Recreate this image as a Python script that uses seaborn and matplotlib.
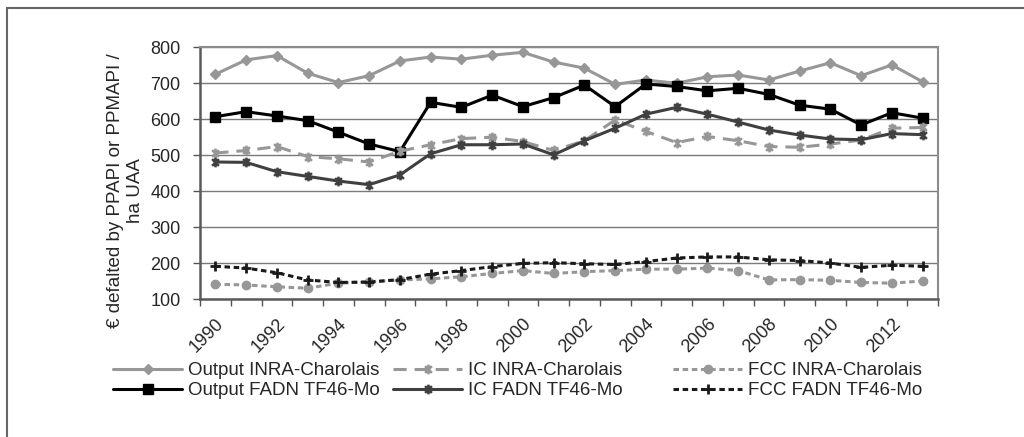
import seaborn as sns
import pandas as pd
import matplotlib.pyplot as plt
from matplotlib.patches import Rectangle
from matplotlib.path import Path
from matplotlib.ticker import MultipleLocator, FixedLocator

years = list(range(1990, 2014))

output_inra = [725, 765, 777, 728, 702, 721, 762, 773, 767, 778, 786, 759,
               742, 697, 709, 700, 718, 723, 709, 734, 757, 721, 751, 704]
output_fadn = [607, 621, 609, 596, 564, 531, 510, 647, 633, 667, 635, 660,
               695, 635, 698, 691, 679, 686, 669, 639, 628, 584, 618, 603]
ic_inra = [506, 513, 524, 496, 490, 481, 511, 529, 546, 550, 538, 513,
           540, 598, 566, 535, 552, 540, 524, 522, 531, 542, 575, 577]
ic_fadn = [481, 480, 454, 441, 428, 418, 445, 504, 529, 529, 531, 501,
           540, 575, 614, 633, 614, 592, 570, 556, 545, 543, 560, 557]
fcc_inra = [141, 139, 134, 130, 144, 148, 153, 156, 162, 171, 179, 171,
            176, 179, 183, 183, 186, 179, 153, 154, 152, 146, 144, 150]
fcc_fadn = [191, 186, 173, 153, 146, 147, 154, 169, 179, 190, 199, 201,
            198, 196, 204, 214, 217, 217, 209, 207, 200, 188, 194, 191]

series_names = ["Output INRA-Charolais", "Output FADN TF46-Mo",
                "IC INRA-Charolais", "IC FADN TF46-Mo",
                "FCC INRA-Charolais", "FCC FADN TF46-Mo"]
series_vals = [output_inra, output_fadn, ic_inra, ic_fadn, fcc_inra, fcc_fadn]

# Excel-like "star" marker: an x with a vertical bar
star = Path([(-0.7, -0.7), (0.7, 0.7), (-0.7, 0.7), (0.7, -0.7), (0, -1), (0, 1)],
            [Path.MOVETO, Path.LINETO, Path.MOVETO, Path.LINETO, Path.MOVETO, Path.LINETO])

styles = {
    "Output INRA-Charolais": dict(color="#979797", marker="D", ms=5, ls="-", lw=2.2),
    "Output FADN TF46-Mo": dict(color="#000000", marker="s", ms=6.5, ls="-", lw=2.2),
    "IC INRA-Charolais": dict(color="#979797", marker=star, ms=7, ls=(0, (4.3, 2.6)), lw=2.2, mew=1.8),
    "IC FADN TF46-Mo": dict(color="#404040", marker=star, ms=7, ls="-", lw=2.2, mew=1.8),
    "FCC INRA-Charolais": dict(color="#979797", marker="o", ms=6, ls=(0, (1.8, 1.2)), lw=2.2),
    "FCC FADN TF46-Mo": dict(color="#1a1a1a", marker="+", ms=7, ls=(0, (1.8, 1.2)), lw=2.2, mew=2),
}

sns.set_theme(style="white")
plt.rcParams['font.family'] = ['Liberation Sans', 'DejaVu Sans']

fig = plt.figure(figsize=(10.24, 4.37), dpi=100)
ax = fig.add_axes([200 / 1024, 1 - 299 / 437, 738 / 1024, (299 - 47.3) / 437])

for name, vals in zip(series_names, series_vals):
    df = pd.DataFrame({"year": years, "value": vals})
    st = styles[name]
    sns.lineplot(data=df, x="year", y="value", ax=ax, label=name,
                 color=st["color"], marker=st["marker"], markersize=st["ms"],
                 linestyle=st["ls"], linewidth=st["lw"],
                 markeredgewidth=st.get("mew", 1), markeredgecolor=st["color"])

handles, labels = ax.get_legend_handles_labels()
ax.get_legend().remove()

ax.set_xlim(1989.5, 2013.5)
ax.set_ylim(100, 800)
ax.yaxis.set_major_locator(MultipleLocator(100))
ax.yaxis.grid(True, color="#7a7a7a", lw=1)
ax.xaxis.grid(False)

ax.set_xticks(years[::2])
ax.set_xticklabels([str(y) for y in years[::2]], rotation=45, ha="right",
                   va="top", rotation_mode="anchor", fontsize=13)
ax.xaxis.set_minor_locator(FixedLocator([1989.5 + i for i in range(25)]))
ax.tick_params(axis="x", which="major", length=0, pad=12)
ax.tick_params(axis="x", which="minor", length=5, width=1, color="#555555",
               direction="out", bottom=True)
ax.tick_params(axis="y", which="major", length=5, width=1, color="#555555",
               direction="out", left=True, labelsize=13, pad=9)
ax.set_xlabel("")
ax.set_ylabel("€ defalted by PPAPI or PPMAPI /\nha UAA", fontsize=13.5,
              linespacing=1.2)
ax.yaxis.set_label_coords(-0.076, 0.43)

for side in ["top", "right"]:
    ax.spines[side].set_color("#8c8c8c")
    ax.spines[side].set_linewidth(1.5)
for side in ["left", "bottom"]:
    ax.spines[side].set_color("#5a5a5a")
    ax.spines[side].set_linewidth(1.8)

# three legend columns of equal width, like the original
for col, x0 in enumerate([113, 393, 673]):
    fig.legend(handles[2 * col:2 * col + 2], labels[2 * col:2 * col + 2],
               loc="upper left", bbox_to_anchor=(x0 / 1024, 1 - 362 / 437),
               frameon=False, fontsize=13.5, handlelength=3.7,
               handletextpad=0.32, labelspacing=0.15, borderpad=0,
               borderaxespad=0)

fig.patches.append(Rectangle((7 / 1024, -0.1), 1.2, 1 - 7.5 / 437 + 0.1,
                             transform=fig.transFigure, fill=False,
                             edgecolor="#666666", lw=1.5, zorder=-1))

fig.savefig("out.png", dpi=100)
